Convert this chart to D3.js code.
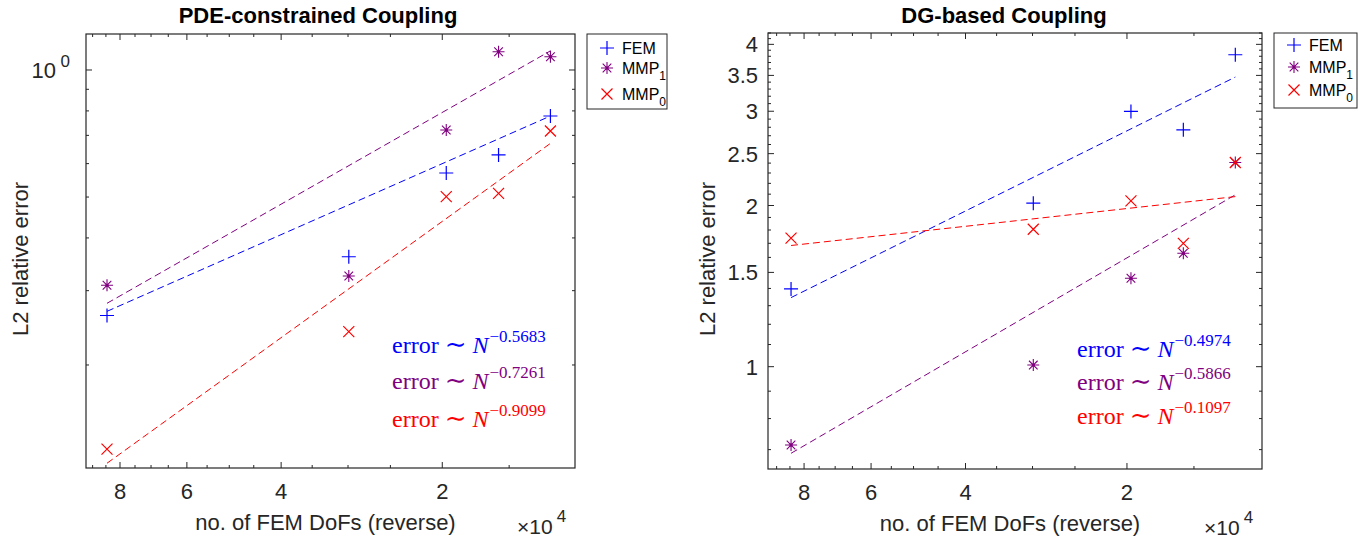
<!DOCTYPE html>
<html><head><meta charset="utf-8">
<script src="https://cdn.jsdelivr.net/npm/d3@7"></script>
<style>
body{margin:0;background:#fff;}
svg{font-family:"Liberation Sans",Arial,sans-serif;}
</style></head>
<body><svg id="c" width="1370" height="541"></svg>
<script>
// ---- data ----
const dofs = [84600, 29900, 19660, 15700, 12560];
const xMajorTicks = [8, 6, 4, 2];            // ×10^4
const xMinorTicks = [9, 8.5, 7.5, 7, 6.5, 5.5, 5, 4.5, 3.5, 3, 2.5, 1.5];
const seriesNames = ["FEM", "MMP1", "MMP0"];

// PDE-constrained coupling
const pdeFEM  = [0.262, 0.361, 0.570, 0.629, 0.778];
const pdeMMP1 = [0.309, 0.325, 0.721, 1.105, 1.075];
const pdeMMP0 = [0.1264, 0.240, 0.501, 0.510, 0.717];
const pdeFitFEM  = [0.268, 0.778];
const pdeFitMMP1 = [0.280, 1.110];
const pdeFitMMP0 = [0.117, 0.670];
const pdeRates = ["-0.5683", "-0.7261", "-0.9099"];
const pdeYMinor = [0.2, 0.3, 0.4, 0.5, 0.6, 0.7, 0.8, 0.9];
const pdeYMajor = [1];

// DG-based coupling
const dgFEM  = [1.397, 2.02, 2.997, 2.77, 3.825];
const dgMMP1 = [0.714, 1.007, 1.463, 1.629, 2.406];
const dgMMP0 = [1.738, 1.806, 2.04, 1.70, 2.406];
const dgFitFEM  = [1.346, 3.475];
const dgFitMMP1 = [0.689, 2.094];
const dgFitMMP0 = [1.684, 2.078];
const dgRates = ["-0.4974", "-0.5866", "-0.1097"];
const dgYMajor = [1, 1.5, 2, 2.5, 3, 3.5, 4];
const dgYMinor = [0.7, 0.8, 0.9, 1.1, 1.2, 1.3, 1.4, 1.6, 1.7, 1.8, 1.9, 2.1, 2.2, 2.3, 2.4, 2.6, 2.7, 2.8, 2.9, 3.1, 3.2, 3.3, 3.4, 3.6, 3.7, 3.8, 3.9, 4.1, 4.2];

const colors = {FEM: "#0000ff", MMP1: "#800080", MMP0: "#ff0000"};
const axisColor = "#262626";

const svg = d3.select("#c");

function marker(g, type, x, y, s) {
  const c = colors[type];
  if (type === "FEM") {
    const h = s || 7;
    g.append("path").attr("d", `M${x-h},${y}H${x+h}M${x},${y-h}V${y+h}`)
      .attr("stroke", c).attr("stroke-width", 1.2).attr("fill", "none");
  } else if (type === "MMP1") {
    const h = s || 6, d = h * 0.72;
    g.append("path").attr("d", `M${x-h},${y}H${x+h}M${x},${y-h}V${y+h}M${x-d},${y-d}L${x+d},${y+d}M${x-d},${y+d}L${x+d},${y-d}`)
      .attr("stroke", c).attr("stroke-width", 1.1).attr("fill", "none");
    g.append("circle").attr("cx", x).attr("cy", y).attr("r", 1.5).attr("fill", c);
  } else {
    const h = s || 5.5;
    g.append("path").attr("d", `M${x-h},${y-h}L${x+h},${y+h}M${x-h},${y+h}L${x+h},${y-h}`)
      .attr("stroke", c).attr("stroke-width", 1.2).attr("fill", "none");
  }
}

function panel(cfg) {
  const g = svg.append("g");
  const x = d3.scaleLog().domain(cfg.xDomain).range([cfg.left, cfg.right]);
  const y = d3.scaleLog().domain(cfg.yDomain).range([cfg.bottom, cfg.top]);

  // box
  g.append("rect").attr("x", cfg.left).attr("y", cfg.top)
    .attr("width", cfg.right - cfg.left).attr("height", cfg.bottom - cfg.top)
    .attr("fill", "none").attr("stroke", axisColor).attr("stroke-width", 1.2);

  // x ticks (bottom + top)
  const tk = (vals, len) => vals.forEach(v => {
    const px = x(v * 1e4);
    g.append("line").attr("x1", px).attr("x2", px).attr("y1", cfg.bottom).attr("y2", cfg.bottom - len)
      .attr("stroke", axisColor);
    g.append("line").attr("x1", px).attr("x2", px).attr("y1", cfg.top).attr("y2", cfg.top + len)
      .attr("stroke", axisColor);
  });
  tk(xMajorTicks, 6); tk(xMinorTicks, 3);
  xMajorTicks.forEach(v => {
    g.append("text").attr("x", x(v * 1e4)).attr("y", cfg.bottom + 31)
      .attr("text-anchor", "middle").attr("font-size", 22).attr("fill", axisColor).text(v);
  });
  // ×10^4
  const mt = g.append("text").attr("x", cfg.right - 58).attr("y", cfg.bottom + 66)
    .attr("font-size", 21).attr("fill", axisColor);
  mt.append("tspan").text("\u00d710");
  mt.append("tspan").attr("dy", -12).attr("dx", 4).attr("font-size", 17).text("4");

  // y ticks (left + right)
  const ytk = (vals, len) => vals.forEach(v => {
    const py = y(v);
    g.append("line").attr("x1", cfg.left).attr("x2", cfg.left + len).attr("y1", py).attr("y2", py).attr("stroke", axisColor);
    g.append("line").attr("x1", cfg.right).attr("x2", cfg.right - len).attr("y1", py).attr("y2", py).attr("stroke", axisColor);
  });
  ytk(cfg.yMajor, 6); ytk(cfg.yMinor, 3);
  cfg.yMajor.forEach(v => {
    if (cfg.pow) {
      const t = g.append("text").attr("x", cfg.left - 30).attr("y", y(v) + 8)
        .attr("text-anchor", "end").attr("font-size", 22).attr("fill", axisColor);
      t.append("tspan").text("10");
      t.append("tspan").attr("x", cfg.left - 16).attr("dy", -11).attr("text-anchor", "end").attr("font-size", 17).text("0");
    } else {
      g.append("text").attr("x", cfg.left - 10).attr("y", y(v) + 8)
        .attr("text-anchor", "end").attr("font-size", 22).attr("fill", axisColor).text(v);
    }
  });

  // labels
  g.append("text").attr("x", (cfg.left + cfg.right) / 2 - 5).attr("y", cfg.bottom + 62)
    .attr("text-anchor", "middle").attr("font-size", 22).attr("fill", axisColor).text("no. of FEM DoFs (reverse)");
  g.append("text").attr("transform", `translate(${cfg.ylabX},${(cfg.top + cfg.bottom) / 2 + 8}) rotate(-90)`)
    .attr("text-anchor", "middle").attr("font-size", 22).attr("fill", axisColor).text("L2 relative error");
  g.append("text").attr("x", cfg.titleX).attr("y", 23)
    .attr("text-anchor", "middle").attr("font-size", 22).attr("font-weight", "bold").attr("fill", "#000").text(cfg.title);

  // fit lines
  const xs = [dofs[0], dofs[dofs.length - 1]];
  const lineGen = d3.line().x(d => x(d[0])).y(d => y(d[1]));
  seriesNames.forEach((n, i) => {
    const f = cfg.fits[i];
    g.append("path").attr("d", lineGen(xs.map((xv, j) => [xv, f[j]])))
      .attr("stroke", colors[n]).attr("stroke-width", 1).attr("fill", "none")
      .attr("stroke-dasharray", "7,4");
  });

  // markers
  seriesNames.forEach((n, i) => {
    cfg.series[i].forEach((v, j) => marker(g, n, x(dofs[j]), y(v)));
  });

  // rate annotations
  seriesNames.forEach((n, i) => {
    const t = g.append("text").attr("x", cfg.annX).attr("y", cfg.annY[i])
      .attr("font-family", "'Liberation Serif','DejaVu Serif',serif").attr("font-size", 24).attr("fill", colors[n]);
    t.append("tspan").text("error ");
    t.append("tspan").attr("font-size", 26).text("\u223c");
    t.append("tspan").text(" ");
    t.append("tspan").attr("font-style", "italic").text("N");
    t.append("tspan").attr("dy", -11).attr("dx", 1).attr("font-size", 17).text(cfg.rates[i].replace("-", "\u2212"));
  });

  // legend
  const L = cfg.legend;
  g.append("rect").attr("x", L.x).attr("y", L.y).attr("width", L.w).attr("height", L.h)
    .attr("fill", "#fff").attr("stroke", axisColor).attr("stroke-width", 1);
  seriesNames.forEach((n, i) => {
    const cy = L.y + L.rows[i];
    marker(g, n, L.x + 20, cy);
    const t = g.append("text").attr("x", L.x + 35).attr("y", cy + 6).attr("font-size", 16).attr("fill", "#000");
    if (n === "FEM") t.text("FEM");
    else {
      t.append("tspan").text("MMP");
      t.append("tspan").attr("dy", 6).attr("font-size", 12).text(n.slice(3));
    }
  });
}

panel({
  left: 86, right: 575, top: 34, bottom: 468,
  xDomain: [9.26e4, 1.13e4], yDomain: [0.114, 1.217],
  yMajor: pdeYMajor, yMinor: pdeYMinor, pow: true,
  ylabX: 28, titleX: 318, title: "PDE-constrained Coupling",
  fits: [pdeFitFEM, pdeFitMMP1, pdeFitMMP0],
  series: [pdeFEM, pdeMMP1, pdeMMP0],
  rates: pdeRates, annX: 392, annY: [353, 389, 427],
  legend: {x: 587, y: 34, w: 80, h: 75, rows: [14, 34, 60]}
});

panel({
  left: 768, right: 1262, top: 33, bottom: 469,
  xDomain: [9.34e4, 1.12e4], yDomain: [0.644, 4.2],
  yMajor: dgYMajor, yMinor: dgYMinor, pow: false,
  ylabX: 715, titleX: 1004, title: "DG-based Coupling",
  fits: [dgFitFEM, dgFitMMP1, dgFitMMP0],
  series: [dgFEM, dgMMP1, dgMMP0],
  rates: dgRates, annX: 1077, annY: [357, 390, 424],
  legend: {x: 1274, y: 33, w: 83, h: 75, rows: [12, 34, 57]}
});
</script></body></html>
